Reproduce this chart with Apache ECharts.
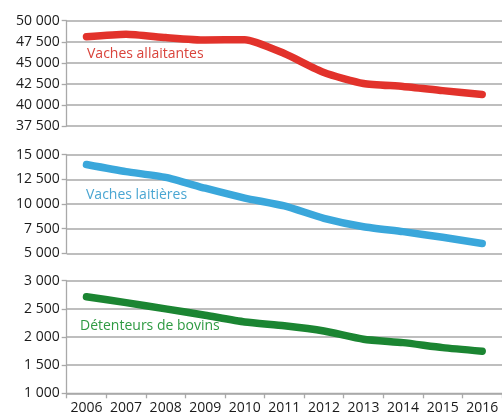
<!DOCTYPE html>
<html><head><meta charset="utf-8">
<script src="https://cdn.jsdelivr.net/npm/echarts@6/dist/echarts.min.js"></script>
<style>html,body{margin:0;padding:0;background:#fff}#c{width:502px;height:416px}</style>
</head><body><div id="c"></div>
<script>
const years = ['2006','2007','2008','2009','2010','2011','2012','2013','2014','2015','2016'];
const vachesAllaitantes = [48100, 48400, 48000, 47700, 47750, 46100, 43850, 42550, 42200, 41700, 41250];
const vachesLaitieres = [14000, 13280, 12700, 11600, 10600, 9800, 8550, 7700, 7200, 6620, 6000];
const detenteurs = [2716, 2610, 2500, 2386, 2267, 2200, 2107, 1960, 1900, 1811, 1747];
const topTicks = {min: 37500, max: 50000, interval: 2500};
const midTicks = {min: 5000, max: 15000, interval: 2500};
const botTicks = {min: 1000, max: 3000, interval: 500};

const font = 'Open Sans';
const fmt = v => String(v).replace(/\B(?=(\d{3})+(?!\d))/g, ' ');
const gridColor = '#a9a9a9';
const L = 66.7, W = 443.5;

function yAx(i, t) {
  return {
    type: 'value', gridIndex: i, min: t.min, max: t.max, interval: t.interval,
    axisLine: {show: true, lineStyle: {color: gridColor, width: 1.3}},
    axisTick: {show: true, length: 5, lineStyle: {color: gridColor, width: 1.3}},
    axisLabel: {formatter: fmt, fontFamily: font, fontSize: 14, color: '#1a1a1a', margin: 7},
    splitLine: {show: true, lineStyle: {color: gridColor, width: 1.5}}
  };
}
function xAx(i, show) {
  return {
    type: 'category', gridIndex: i, data: years, boundaryGap: true,
    axisLine: {show: show, lineStyle: {color: gridColor, width: 1.3}},
    axisTick: {show: show, length: 5, interval: 0, lineStyle: {color: gridColor, width: 1.3}},
    axisLabel: {show: show, interval: 0, hideOverlap: false, fontFamily: font, fontSize: 14, color: '#1a1a1a', margin: 8},
    splitLine: {show: false}
  };
}
function ser(i, data, color) {
  return {
    type: 'line', xAxisIndex: i, yAxisIndex: i, data: data, smooth: 0.2,
    symbol: 'none', lineStyle: {color: color, width: 7.5, cap: 'round', join: 'round'}
  };
}
const chart = echarts.init(document.getElementById('c'), null, {renderer: 'canvas'});
chart.setOption({
  animation: false,
  grid: [
    {left: L, width: W, top: 20.7, height: 105.3},
    {left: L, width: W, top: 154.7, height: 98.6},
    {left: L, width: W, top: 280.7, height: 112.6}
  ],
  xAxis: [xAx(0, false), xAx(1, false), xAx(2, true)],
  yAxis: [yAx(0, topTicks), yAx(1, midTicks), yAx(2, botTicks)],
  series: [
    ser(0, vachesAllaitantes, '#e2322b'),
    ser(1, vachesLaitieres, '#3aa7db'),
    ser(2, detenteurs, '#1b8532')
  ],
  graphic: [
    {type: 'text', left: 87, top: 47, style: {text: 'Vaches allaitantes', fill: '#d9433b', font: '14px "Open Sans"'}},
    {type: 'text', left: 86, top: 188, style: {text: 'Vaches laitières', fill: '#4aa6d2', font: '14px "Open Sans"'}},
    {type: 'text', left: 80, top: 319, style: {text: 'Détenteurs de bovins', fill: '#2e9a42', font: '14px "Open Sans"'}}
  ]
});
</script></body></html>
